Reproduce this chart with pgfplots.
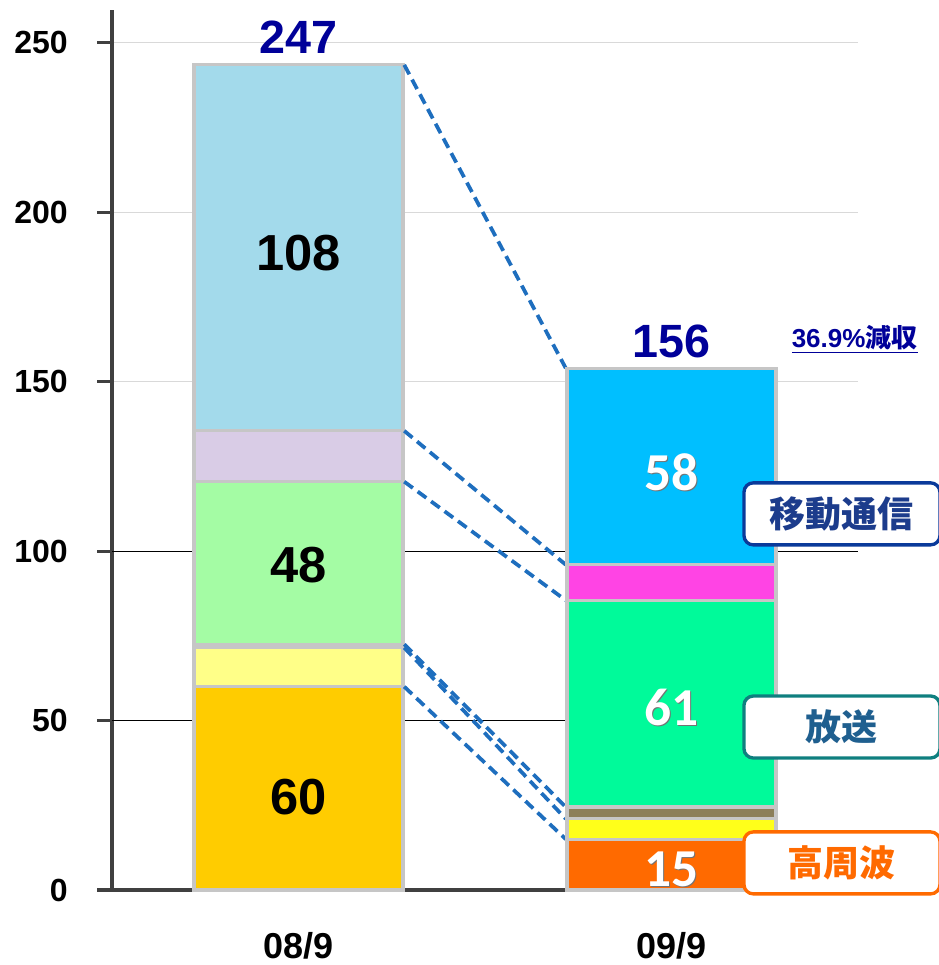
\documentclass[border=0pt]{standalone}
\usepackage{fontspec}
\setmainfont{Liberation Sans}
\newfontfamily\cjk{Noto Sans CJK JP}
\newfontfamily\carl{Carlito}
\usepackage{pgfplots}
\pgfplotsset{compat=1.18}

\definecolor{axisgray}{HTML}{404040}
\definecolor{gridgray}{HTML}{D9D9D9}
\definecolor{edge}{HTML}{C6C6C6}
\definecolor{dashblue}{HTML}{1E6EBE}
\definecolor{totblue}{HTML}{000099}
% bar 08/9
\definecolor{aGold}{HTML}{FFCC00}
\definecolor{aYel}{HTML}{FFFF88}
\definecolor{aOli}{HTML}{D0D0D0}
\definecolor{aGrn}{HTML}{A4FCA4}
\definecolor{aLav}{HTML}{D9CCE6}
\definecolor{aBlu}{HTML}{A3DAEB}
% bar 09/9
\definecolor{bOra}{HTML}{FF6A00}
\definecolor{bYel}{HTML}{FFFF1A}
\definecolor{bOli}{HTML}{8C7F5A}
\definecolor{bGrn}{HTML}{00FA9A}
\definecolor{bMag}{HTML}{FF44E4}
\definecolor{bBlu}{HTML}{00BFFF}
% callouts
\definecolor{boxNavy}{HTML}{0A3A9A}
\definecolor{txtNavy}{HTML}{1C3C8C}
\definecolor{boxTeal}{HTML}{0F7F7F}
\definecolor{txtTeal}{HTML}{1F5F8F}
\definecolor{boxOra}{HTML}{FF6A00}

\pgfplotsset{
  base/.style={
    at={(0,0)}, anchor=south west, scale only axis,
    width=559.5pt, height=660pt,
    xmin=-0.5, xmax=1.5, ymin=0, ymax=259.7,
    clip=false,
  },
  seg/.style={fill=#1, draw=edge, line width=2.4pt},
}
\tikzset{
  dl/.style={dashblue, line width=2.8pt, dash pattern=on 8pt off 4.5pt},
  blk/.style={font=\fontsize{38}{38}\selectfont\bfseries, inner sep=0pt},
  wht/.style={font=\carl\fontsize{40}{40}\selectfont\bfseries, inner sep=0pt, text=white},
  shd/.style={font=\carl\fontsize{40}{40}\selectfont\bfseries, inner sep=0pt, text=black!55,
    xshift=0.8pt, yshift=-0.8pt},
  tot/.style={font=\fontsize{35}{35}\selectfont\bfseries, text=totblue, inner sep=0pt, anchor=base},
  callout/.style={draw=#1, line width=2.5pt, rounded corners=7pt, fill=white,
    minimum width=147pt, minimum height=46.5pt, inner sep=0pt,
    font=\cjk\fontsize{27}{27}\selectfont\bfseries},
}

\begin{document}
\begin{tikzpicture}
\useasboundingbox (-84pt,-56.25pt) rectangle (620.25pt,667.5pt);

% axis, grid and the 08/9 bar
\begin{axis}[base, ybar stacked, bar width=0.56,
  axis x line*=bottom, axis y line*=left,
  axis line style={line width=2.4pt, color=axisgray, -},
  xtick={0,1}, xticklabels={08/9,09/9},
  ytick={0,50,...,250}, yticklabels={0,50,100,150,200,250},
  tick align=outside, major tick length=11pt,
  ytick style={line width=2.4pt, color=axisgray},
  xtick style={draw=none},
  ymajorgrids, grid style={color=gridgray, line width=0.75pt},
  extra y ticks={50,100}, extra y tick labels={},
  extra y tick style={grid=major, major grid style={black, line width=0.75pt}},
  yticklabel style={font=\fontsize{24}{24}\selectfont\bfseries, anchor=east, inner sep=0pt, xshift=-22pt},
  xticklabel style={font=\fontsize{27}{27}\selectfont\bfseries, anchor=base, inner sep=0pt, yshift=-40.5pt},
]
\addplot[seg=aGold] coordinates {(0,60)};
\addplot[seg=aYel]  coordinates {(0,11.5)};
\addplot[seg=aOli]  coordinates {(0,1)};
\addplot[seg=aGrn]  coordinates {(0,48)};
\addplot[seg=aLav]  coordinates {(0,15)};
\addplot[seg=aBlu]  coordinates {(0,108)};
\end{axis}

% connecting dashed lines
\begin{axis}[base, hide axis]
\addplot[dl] coordinates {(0.2835,243.5) (0.7165,154)};
\addplot[dl] coordinates {(0.2835,135.5) (0.7165,96)};
\addplot[dl] coordinates {(0.2835,120.5) (0.7165,85.5)};
\addplot[dl] coordinates {(0.2835,72.5) (0.7165,24.5)};
\addplot[dl] coordinates {(0.2835,71.5) (0.7165,21)};
\addplot[dl] coordinates {(0.2835,60) (0.7165,15)};
\end{axis}

% the 09/9 bar
\begin{axis}[base, hide axis, ybar stacked, bar width=0.56]
\addplot[seg=bOra] coordinates {(1,15)};
\addplot[seg=bYel] coordinates {(1,6)};
\addplot[seg=bOli] coordinates {(1,3.5)};
\addplot[seg=bGrn] coordinates {(1,61)};
\addplot[seg=bMag] coordinates {(1,10.5)};
\addplot[seg=bBlu] coordinates {(1,58)};
\end{axis}

% labels, totals and callouts on top
\begin{axis}[base, hide axis]
\node[blk] at (axis cs:0,188) {108};
\node[blk] at (axis cs:0,96) {48};
\node[blk] at (axis cs:0,27.5) {60};
\node[shd] at (axis cs:1,123.4) {58};
\node[wht] at (axis cs:1,123.4) {58};
\node[shd] at (axis cs:1,54) {61};
\node[wht] at (axis cs:1,54) {61};
\node[shd] at (axis cs:1,6) {15};
\node[wht] at (axis cs:1,6) {15};
\node[tot] at (axis cs:0,247) {247};
\node[tot] at (axis cs:1,157) {156};
\node[anchor=base, text=totblue, inner sep=0pt] at (axis cs:1.491,160)
  {\underline{\fontsize{19.5}{19.5}\selectfont\bfseries 36.9\%{\cjk 減収}}};
\node[callout=boxNavy, text=txtNavy] at (axis cs:1.457,111) {移動通信};
\node[callout=boxTeal, text=txtTeal] at (axis cs:1.457,48.1) {放送};
\node[callout=boxOra, text=boxOra] at (axis cs:1.457,8) {高周波};
\end{axis}
\end{tikzpicture}
\end{document}
